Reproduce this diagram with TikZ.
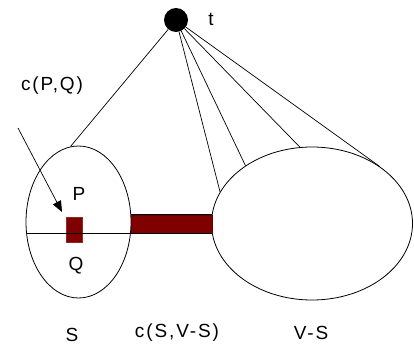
\documentclass[tikz,border=0pt]{standalone}
\usepackage{fontspec}
\setmainfont{Liberation Sans}[LetterSpace=10]
\usetikzlibrary{shapes.geometric,arrows.meta}
\definecolor{cutred}{RGB}{128,0,0}
\begin{document}
\begin{tikzpicture}[x=1pt,y=-1pt,
  set/.style={draw,ellipse,line width=0.8pt,inner sep=0pt},
  edge/.style={line width=0.7pt},
  lab/.style={font=\fontsize{19}{19}\selectfont,inner sep=0pt}]
\useasboundingbox (0,0) rectangle (414,347);
\node[set,minimum width=105pt,minimum height=152pt] (S) at (78.5,222) {};
\node[set,minimum width=201pt,minimum height=153pt] (VS) at (312,223.5) {};
\node[fill=cutred,draw=cutred!80!black,line width=0.5pt,minimum width=81pt,minimum height=18pt,inner sep=0pt] (bar) at (171.5,224) {};
\draw[line width=0.8pt] (bar.north west) -- (bar.north east);
\draw[line width=0.8pt] (bar.south west) -- (bar.south east);
\node[fill=cutred,draw=cutred!85,line width=0.5pt,minimum width=16pt,minimum height=25pt,inner sep=0pt] (pq) at (74,229.5) {};
\coordinate (Sl) at (26.5,233);
\coordinate (Sr) at (130.5,233);
\draw[line width=0.8pt] (Sl) -- (Sr);
\node[circle,fill=black,minimum size=24pt,inner sep=0pt] (t) at (176,20) {};
\draw[edge] (t) -- (S.96);
\draw[edge] (t) -- (VS.161);
\draw[edge] (t) -- (VS.139.5);
\draw[edge] (t) -- (VS.99);
\draw[edge] (t) -- (VS.40);
\coordinate (arrs) at (18,128);
\coordinate (arre) at (62,212);
\draw[edge,-{Triangle[length=11pt,width=9pt]}] (arrs) -- (arre);
\node[lab] (tl) at (211,19) {t};
\node[lab] (cpq) at (52,86) {c(P,Q)};
\node[lab] (P) at (79,194) {P};
\node[lab] (Q) at (76,266) {Q};
\node[lab] (Sl2) at (72,335) {S};
\node[lab] (csv) at (177,333) {c(S,V-S)};
\node[lab] (vsl) at (311,333) {V-S};
\end{tikzpicture}
\end{document}
